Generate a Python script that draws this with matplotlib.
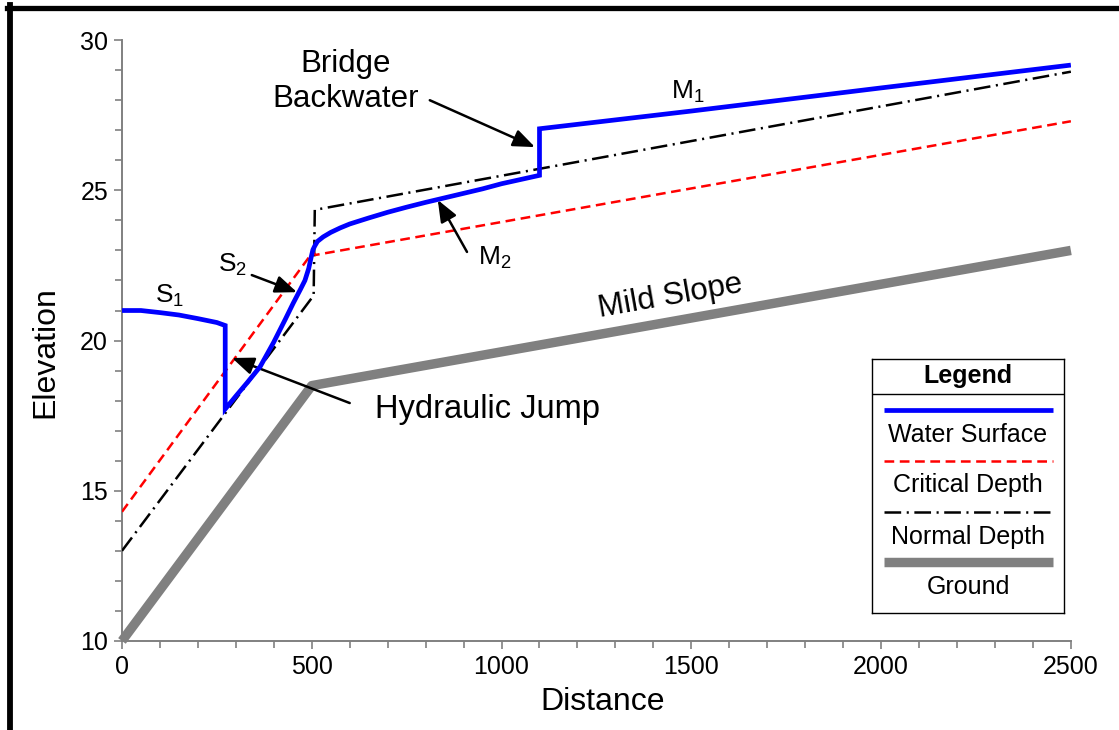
import numpy as np
import matplotlib.pyplot as plt
from matplotlib.lines import Line2D

plt.rcParams['font.family'] = ['Liberation Sans', 'DejaVu Sans']
plt.rcParams['mathtext.default'] = 'regular'
plt.rcParams['lines.scale_dashes'] = False

# water surface: S1 -> hydraulic jump -> S2 -> M2 -> bridge -> M1
ws_x = [0, 50, 100, 150, 200, 250, 272, 272, 300, 330, 364, 400, 430, 451, 470, 482, 492, 498, 503,
        508, 515, 530, 550, 575, 600, 650, 700, 750, 800, 850, 900, 950, 1000, 1050, 1100,
        1100, 1500, 2000, 2500]
ws_y = [21.0, 21.0, 20.93, 20.85, 20.73, 20.6, 20.5, 17.72, 18.15, 18.6, 19.13, 19.95, 20.7, 21.24, 21.7, 22.0, 22.4, 22.75, 23.02,
        23.15, 23.3, 23.45, 23.6, 23.75, 23.88, 24.08, 24.27, 24.44, 24.6, 24.75, 24.9, 25.05, 25.22, 25.36, 25.5,
        27.05, 27.64, 28.41, 29.17]

crit_x = [0, 503, 510, 2500]
crit_y = [14.3, 22.95, 22.85, 27.3]

norm_x = [0, 505, 508, 2500]
norm_y = [13.0, 21.5, 24.35, 28.95]

ground_x = [0, 500, 2500]
ground_y = [10.0, 18.5, 23.0]

x_ticks = [0, 500, 1000, 1500, 2000, 2500]
y_ticks = [10, 15, 20, 25, 30]
legend_labels = ['Water Surface', 'Critical Depth', 'Normal Depth', 'Ground']

styles = [
    dict(color='#0000ff', lw=3.4, solid_capstyle='butt', solid_joinstyle='miter'),
    dict(color='#ff0000', lw=1.8, dashes=(7, 4)),
    dict(color='black', lw=1.8, dashes=(12, 4, 1.5, 4)),
    dict(color='#808080', lw=6.8, solid_capstyle='butt', solid_joinstyle='round'),
]

fig = plt.figure(figsize=(11.19, 7.3), dpi=100)
ax = fig.add_axes([0.109, 0.122, 0.848, 0.823])

ax.plot(ground_x, ground_y, zorder=2, clip_on=False, **styles[3])
ax.plot(norm_x, norm_y, zorder=3, **styles[2])
ax.plot(crit_x, crit_y, zorder=3, **styles[1])
ax.plot(ws_x, ws_y, zorder=4, **styles[0])

ax.set_xlim(0, 2500)
ax.set_ylim(10, 30)
ax.set_xticks(x_ticks)
ax.set_xticks(np.arange(0, 2501, 100), minor=True)
ax.set_yticks(y_ticks)
ax.set_yticks(np.arange(10, 31, 1), minor=True)
for s in ['top', 'right']:
    ax.spines[s].set_visible(False)
for s in ['left', 'bottom']:
    ax.spines[s].set_color('#808080')
    ax.spines[s].set_linewidth(1.4)
ax.tick_params(which='both', direction='out', color='#808080', width=1.2)
ax.tick_params(which='major', length=6, labelsize=18, pad=4)
ax.tick_params(which='minor', length=5)

fig.text(603/1119, 1-702/730, 'Distance', ha='center', va='center', fontsize=23)
fig.text(45/1119, 1-352/730, 'Elevation', ha='center', va='center', fontsize=23, rotation=90)

# labels + arrows
arr = dict(arrowstyle='-|>,head_length=0.6,head_width=0.24', color='black', lw=1.8,
           mutation_scale=22, shrinkA=0, shrinkB=0)
ax.text(590, 28.62, 'Bridge\nBackwater', ha='center', va='center', fontsize=22.5)
ax.annotate('', xy=(1088, 26.44), xytext=(811, 28.0), arrowprops=arr)
ax.text(1491, 28.27, 'M$_1$', ha='center', va='center', fontsize=19)
ax.text(982, 22.75, 'M$_2$', ha='center', va='center', fontsize=19)
ax.annotate('', xy=(832, 24.68), xytext=(909, 22.95), arrowprops=arr)
ax.text(126, 21.5, 'S$_1$', ha='center', va='center', fontsize=19)
ax.text(292, 22.51, 'S$_2$', ha='center', va='center', fontsize=19)
ax.annotate('', xy=(461, 21.61), xytext=(342, 22.18), arrowprops=arr)
ax.text(666, 17.69, 'Hydraulic Jump', ha='left', va='center', fontsize=23.5)
ax.annotate('', xy=(290, 19.42), xytext=(600, 17.92), arrowprops=arr)
ax.text(1444, 21.45, 'Mild Slope', ha='center', va='center', fontsize=22.5, rotation=10)

# legend box
lax = fig.add_axes([872/1119, 1-613/730, 192/1119, 254/730])
lax.set_xlim(0, 1)
lax.set_ylim(0, 1)
lax.set_xticks([])
lax.set_yticks([])
for s in lax.spines.values():
    s.set_color('black')
    s.set_linewidth(1.0)
lax.text(0.5, 0.933, 'Legend', ha='center', va='center', fontsize=18, fontweight='bold')
lax.axhline(0.862, color='black', lw=1.0)
line_rows = [0.799, 0.598, 0.398, 0.201]
text_rows = [0.701, 0.504, 0.299, 0.102]
for lab, st, ly, ty in zip(legend_labels, styles, line_rows, text_rows):
    lax.plot([0.0625, 0.943], [ly, ly], **st)
    lax.text(0.5, ty, lab, ha='center', va='center', fontsize=18)

# outer frame (cropped)
fig.add_artist(Line2D([7/1119, 1], [1-7.5/730, 1-7.5/730], color='black', lw=3.8,
                      transform=fig.transFigure))
fig.add_artist(Line2D([9.5/1119, 9.5/1119], [0, 1-5/730], color='black', lw=4.2,
                      transform=fig.transFigure))

plt.savefig('out.png', dpi=100)
